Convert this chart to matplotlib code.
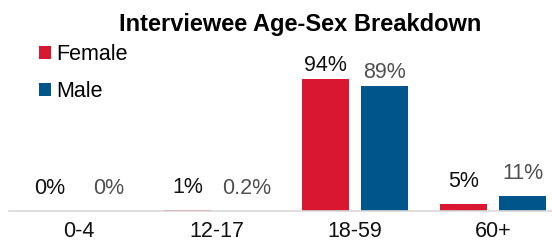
import matplotlib
matplotlib.use("Agg")
import matplotlib.pyplot as plt
import numpy as np

plt.rcParams['font.family'] = ['Liberation Sans', 'DejaVu Sans']

categories = ["0-4", "12-17", "18-59", "60+"]
female = [0, 1, 94, 5]
male = [0, 0.2, 89, 11]
female_labels = ["0%", "1%", "94%", "5%"]
male_labels = ["0%", "0.2%", "89%", "11%"]
title = "Interviewee Age-Sex Breakdown"

RED = "#DA1730"
BLUE = "#00558A"

W, H = 552, 246
fig = plt.figure(figsize=(W / 100, H / 100), dpi=100)
# axes: left edge 9px, baseline at 211px from top, 1.404 px per %
base = (H - 211) / H
top_px = 211 - 100 * 1.404
ax = fig.add_axes([9 / W, base, 1 - 9 / W, (211 - top_px) / H])

x = np.arange(len(categories))
bw = 0.34
off = 0.214
b1 = ax.bar(x - off, female, bw, color=RED, label="Female")
b2 = ax.bar(x + off, male, bw, color=BLUE, label="Male")

for xi, v, lab in zip(x, female, female_labels):
    dy = 3 if v > 50 else 12
    ax.annotate(lab, (xi - off, v), xytext=(0, dy * 0.72), textcoords="offset points",
                ha="center", va="bottom", fontsize=15.5, color="#111111")
for xi, v, lab in zip(x, male, male_labels):
    dy = 3 if v > 50 else 12
    ax.annotate(lab, (xi + off, v), xytext=(0, dy * 0.72), textcoords="offset points",
                ha="center", va="bottom", fontsize=15.5, color="#505050")

ax.set_xlim(-0.507, 3.428)
ax.set_ylim(0, 100)
ax.set_xticks(x)
ax.set_xticklabels(categories, fontsize=15.5, color="#111111")
ax.tick_params(axis="x", length=0, pad=7)
ax.set_yticks([])
for s in ["top", "right", "left"]:
    ax.spines[s].set_visible(False)
ax.spines["bottom"].set_color("#D9D9D9")
ax.spines["bottom"].set_linewidth(1.2)

fig.text(300 / W, 1 - 24 / H, title, ha="center", va="center",
         fontsize=17, fontweight="bold", color="#000000")

fig.legend(handles=[b1, b2], loc="upper left", bbox_to_anchor=(39 / W, 1 - 44 / H),
           frameon=False, fontsize=15.5, handlelength=0.55, handleheight=0.55,
           handletextpad=0.25, labelspacing=0.75, borderpad=0, borderaxespad=0)

fig.savefig("out.png", dpi=100)
